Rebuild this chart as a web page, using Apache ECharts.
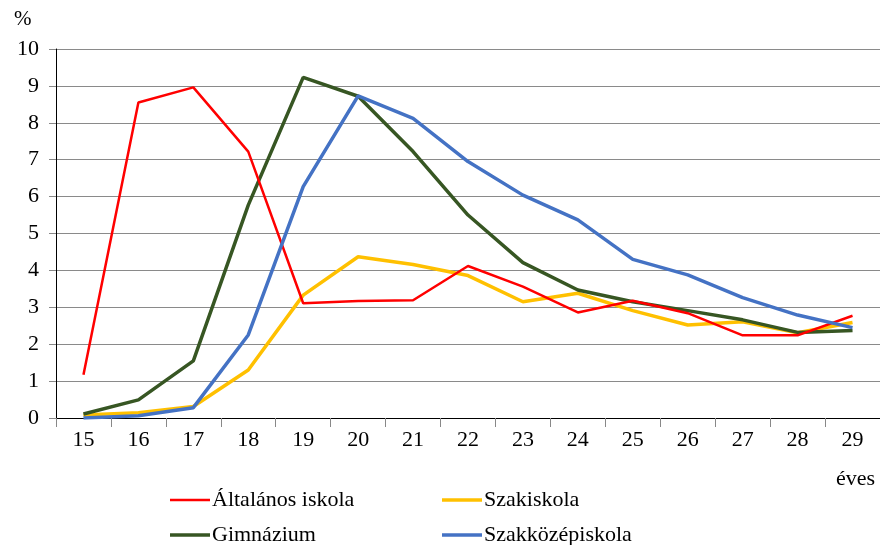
<!DOCTYPE html>
<html>
<head>
<meta charset="utf-8">
<script src="https://cdn.jsdelivr.net/npm/echarts@6/dist/echarts.min.js"></script>
<style>
  html, body { margin: 0; padding: 0; background: #fff; }
  #chart { width: 880px; height: 545px; }
</style>
</head>
<body>
<div id="chart"></div>
<script>
// kor (év)
const ages = ['15', '16', '17', '18', '19', '20', '21', '22', '23', '24', '25', '26', '27', '28', '29'];

// --- adatok (%) ---
const altalanos = [1.17, 8.55, 8.96, 7.22, 3.11, 3.17, 3.19, 4.12, 3.56, 2.86, 3.18, 2.84, 2.24, 2.24, 2.77];
const szakiskola = [0.08, 0.14, 0.31, 1.30, 3.33, 4.37, 4.16, 3.86, 3.15, 3.38, 2.91, 2.52, 2.61, 2.31, 2.59];
const gimnazium = [0.11, 0.49, 1.55, 5.77, 9.23, 8.72, 7.22, 5.50, 4.21, 3.47, 3.15, 2.91, 2.66, 2.32, 2.37];
const szakkozep = [0.00, 0.06, 0.28, 2.25, 6.27, 8.73, 8.12, 6.95, 6.04, 5.37, 4.30, 3.88, 3.26, 2.79, 2.45];

const seriesNames = ['Általános iskola', 'Szakiskola', 'Gimnázium', 'Szakközépiskola'];
const seriesColors = ['#ff0000', '#ffc000', '#375623', '#4472c4'];
const seriesWidths = [2.5, 3.5, 3.5, 3.5];
const seriesData = [altalanos, szakiskola, gimnazium, szakkozep];

const font = '"Liberation Serif", "DejaVu Serif", serif';

const chart = echarts.init(document.getElementById('chart'));

// one legend per item so they sit in two fixed columns
const legendPos = [
  { left: 165, top: 484 },
  { left: 437, top: 484 },
  { left: 165, top: 519 },
  { left: 437, top: 519 },
];

const option = {
  animation: false,
  textStyle: { fontFamily: font },
  grid: { left: 56, right: -4, top: 49, bottom: 127 },
  legend: seriesNames.map((name, i) => ({
    data: [name],
    left: legendPos[i].left,
    top: legendPos[i].top,
    icon: 'rect',
    itemWidth: 40,
    itemHeight: seriesWidths[i],
    itemGap: 0,
    textStyle: { fontFamily: font, fontSize: 22, color: '#000', padding: [0, 0, 0, -3] },
  })),
  xAxis: {
    type: 'category',
    data: ages,
    boundaryGap: true,
    axisLine: { lineStyle: { color: '#000', width: 1 } },
    axisTick: { show: true, length: 9, lineStyle: { color: '#888' } },
    axisLabel: { fontFamily: font, fontSize: 22, color: '#000', margin: 11 },
    splitLine: { show: false },
  },
  yAxis: {
    type: 'value',
    min: 0,
    max: 10,
    interval: 1,
    axisLine: { show: true, lineStyle: { color: '#000', width: 1 } },
    axisTick: { show: true, length: 7, lineStyle: { color: '#888' } },
    axisLabel: { fontFamily: font, fontSize: 22, color: '#000', margin: 17 },
    splitLine: { show: true, lineStyle: { color: '#8a8a8a', width: 1 } },
  },
  graphic: [
    { type: 'text', left: 14, top: 9, style: { text: '%', font: '21px ' + font, fill: '#000' } },
    { type: 'text', left: 836, top: 468, style: { text: 'éves', font: '22px ' + font, fill: '#000' } },
  ],
  series: seriesNames.map((name, i) => ({
    name: name,
    type: 'line',
    data: seriesData[i],
    symbol: 'none',
    color: seriesColors[i],
    lineStyle: { width: seriesWidths[i], color: seriesColors[i] },
    z: i === 0 ? 5 : 2 + i,
  })),
};

chart.setOption(option);
</script>
</body>
</html>
